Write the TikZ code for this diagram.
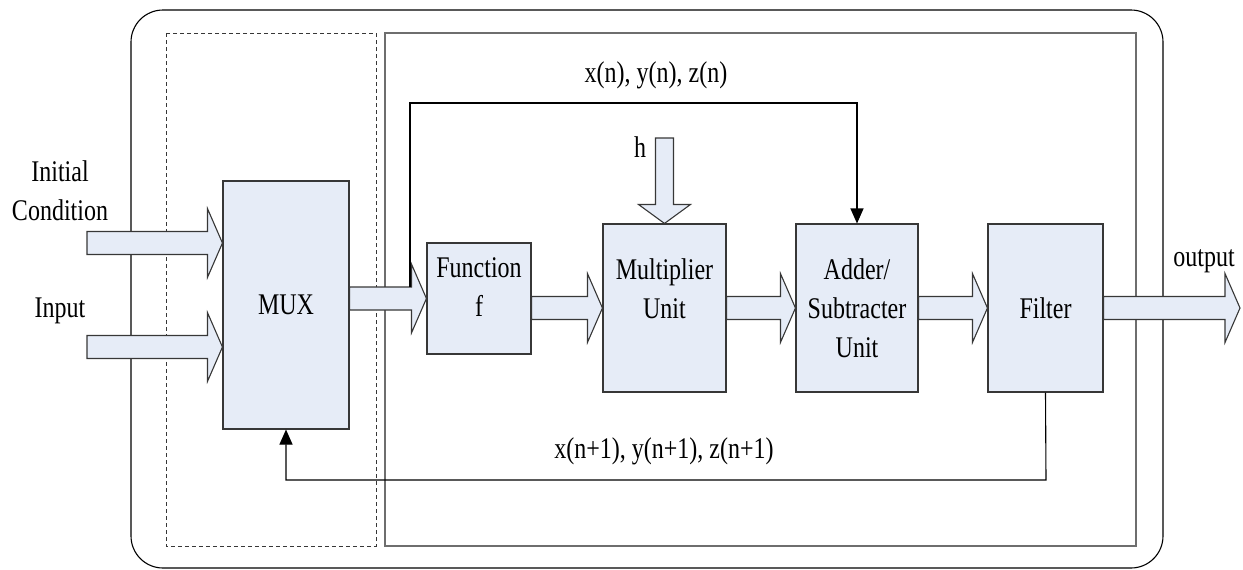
\documentclass[tikz,border=0pt]{standalone}
\usepackage{fontspec}
\setmainfont[FakeStretch=0.8]{Liberation Serif}
\usetikzlibrary{calc,arrows.meta}

\definecolor{boxfill}{RGB}{230,236,247}
\definecolor{boxline}{RGB}{55,55,55}
\definecolor{frameline}{RGB}{110,110,110}

% wide hollow arrow, left to right: #1 tail, #2 gives the x of the tip
\newcommand{\fatright}[2]{%
  \draw[fat] let \p1=(#1), \p2=(#2) in
    (\x1,\y1+5.75pt) -- (\x2-7.5pt,\y1+5.75pt) -- (\x2-7.5pt,\y1+17.25pt)
    -- (\x2,\y1) -- (\x2-7.5pt,\y1-17.25pt) -- (\x2-7.5pt,\y1-5.75pt)
    -- (\x1,\y1-5.75pt) -- cycle;}
% wide hollow arrow, top to bottom
\newcommand{\fatdown}[2]{%
  \draw[fat] let \p1=(#1), \p2=(#2) in
    (\x1-4.5pt,\y1) -- (\x1-4.5pt,\y2+9.5pt) -- (\x1-13pt,\y2+9.5pt)
    -- (\x1,\y2) -- (\x1+13pt,\y2+9.5pt) -- (\x1+4.5pt,\y2+9.5pt)
    -- (\x1+4.5pt,\y1) -- cycle;}

\begin{document}
\begin{tikzpicture}[x=0.5pt,y=-0.5pt,
  every node/.style={font=\fontsize{15}{19.5}\selectfont},
  block/.style={draw=boxline,fill=boxfill,line width=0.55pt,align=center,inner sep=0pt},
  fat/.style={draw=boxline,fill=boxfill,line width=0.55pt},
  wire/.style={draw=black,line width=0.55pt,-{Triangle[width=6.5pt,length=7.5pt]}}]
\useasboundingbox (0,0) rectangle (1243,569);

% frames
\draw[line width=0.55pt,rounded corners=16pt] (131,10) rectangle (1163,568);
\draw[line width=0.5pt,draw=boxline,dash pattern=on 2.2pt off 1.3pt] (166,33) rectangle (376,546);
\draw[line width=0.55pt,draw=frameline] (385,33) rectangle (1136,546);

% blocks
\node[block,minimum width=63pt,minimum height=124pt] (mux) at (286,305) {MUX};
\node[block,minimum width=52pt,minimum height=55.5pt] (func) at (479,298.5) {Function\\f\\[-8pt]~};
\node[block,minimum width=61.5pt,minimum height=84pt] (mult) at (664.5,308) {Multiplier\\Unit\\~};
\node[block,minimum width=61pt,minimum height=84pt] (adder) at (857,308) {Adder/\\Subtracter\\Unit};
\node[block,minimum width=57.5pt,minimum height=84pt] (filter) at (1045.5,308) {Filter};

% free ends
\coordinate (ic) at (87,243);
\coordinate (in) at (87,347);
\coordinate (htop) at (664.5,138);
\coordinate (out) at (1240,308);

% data path
\fatright{ic}{mux.west}
\fatright{in}{mux.west}
\fatright{mux.east |- func.west}{func.west}
\fatright{func.east |- mult.west}{mult.west}
\fatright{mult.east}{adder.west}
\fatright{adder.east}{filter.west}
\fatright{filter.east}{out}
\fatdown{htop}{mult.north}

% state lines
\coordinate (tap) at (410,287);
\draw[wire] (tap) -- (410,103) -| (adder.north);
\draw[wire] (filter.south) -- (1046,480) -| (mux.south);

% labels
\node[align=center] (iclabel) at (60,191) {Initial\\Condition};
\node (inlabel) at (60,311) {Input};
\node (outlabel) at (1204,261) {output};
\node (hlabel) at (640,147) {h};
\node (xnlabel) at (656,75) {x(n), y(n), z(n)};
\node (xn1label) at (664,451) {x(n+1), y(n+1), z(n+1)};
\end{tikzpicture}
\end{document}
